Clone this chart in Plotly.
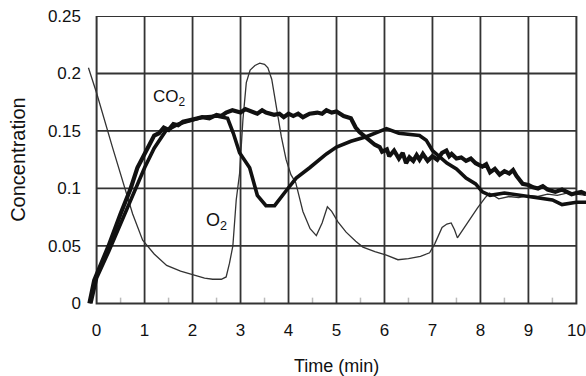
import plotly.graph_objects as go

# ---- data ----
X_TICKS = [0, 1, 2, 3, 4, 5, 6, 7, 8, 9, 10]
Y_TICKS = [0, 0.05, 0.1, 0.15, 0.2, 0.25]
Y_TICK_TEXT = ["0", "0.05", "0.1", "0.15", "0.2", "0.25"]
MINOR_X = [0.5, 1.5, 2.5, 3.5, 4.5, 5.5, 6.5, 7.5, 8.5, 9.5]

o2_t = [-0.17, 0, 0.33, 0.58, 0.75, 0.96, 1.2, 1.46, 1.75, 2.0, 2.25, 2.42, 2.6, 2.7,
        2.77, 2.84, 2.91, 2.98, 3.05, 3.12, 3.2, 3.3, 3.4, 3.5, 3.57, 3.65, 3.75, 3.85,
        3.95, 4.05, 4.15, 4.3, 4.45, 4.58, 4.7, 4.81, 4.9, 5.03, 5.2, 5.4, 5.55, 5.8,
        6.04, 6.28, 6.5, 6.75, 6.94, 7.05, 7.2, 7.3, 7.39, 7.46, 7.52, 7.6, 7.75, 7.94,
        8.1, 8.19, 8.38, 8.6, 8.8, 9.0, 9.2, 9.4, 9.6, 9.8, 10.0, 10.2]
o2_c = [0.205, 0.183, 0.136, 0.101, 0.078, 0.055, 0.043, 0.033, 0.028, 0.025, 0.022, 0.021,
        0.021, 0.023, 0.035, 0.05, 0.09, 0.113, 0.16, 0.192, 0.203, 0.207, 0.209, 0.208,
        0.205, 0.195, 0.168, 0.145, 0.125, 0.112, 0.105, 0.08, 0.065, 0.059, 0.07, 0.084,
        0.08, 0.071, 0.062, 0.054, 0.049, 0.045, 0.042, 0.038, 0.039, 0.041, 0.044, 0.052,
        0.066, 0.069, 0.07, 0.064, 0.057, 0.062, 0.072, 0.083, 0.092, 0.096, 0.091, 0.093,
        0.092, 0.094, 0.093, 0.095, 0.094, 0.096, 0.095, 0.094]

co2_t = [-0.15, -0.05, 0.0, 0.25, 0.5, 0.71, 0.85, 1.0, 1.2, 1.3, 1.4, 1.5, 1.6, 1.7, 1.8,
         2.0, 2.2, 2.35, 2.5, 2.6, 2.7, 2.83, 3.0, 3.1, 3.2, 3.35, 3.45, 3.53, 3.7, 3.81,
         3.9, 4.0, 4.1, 4.2, 4.3, 4.44, 4.6, 4.7, 4.79, 4.9, 5.0, 5.15, 5.3, 5.4, 5.48,
         5.6, 5.7, 5.8, 5.9, 5.95, 6.05, 6.1, 6.2, 6.3, 6.38, 6.45, 6.52, 6.6, 6.67, 6.73,
         6.8, 6.9, 7.0, 7.1, 7.2, 7.29, 7.35, 7.4, 7.5, 7.6, 7.7, 7.8, 7.9, 8.04, 8.12,
         8.2, 8.3, 8.4, 8.5, 8.6, 8.68, 8.75, 8.88, 9.0, 9.1, 9.2, 9.3, 9.4, 9.56, 9.7, 9.8,
         9.9, 10.0, 10.1, 10.2]
co2_c = [0.0, 0.02, 0.025, 0.05, 0.078, 0.1, 0.118, 0.13, 0.146, 0.148, 0.153, 0.151,
         0.156, 0.155, 0.158, 0.16, 0.162, 0.161, 0.164, 0.163, 0.166, 0.168, 0.166, 0.169,
         0.167, 0.165, 0.168, 0.166, 0.164, 0.165, 0.162, 0.165, 0.163, 0.165, 0.162, 0.165,
         0.166, 0.165, 0.168, 0.166, 0.167, 0.163, 0.161, 0.153, 0.149, 0.145, 0.142, 0.138,
         0.136, 0.132, 0.134, 0.128, 0.133, 0.126, 0.131, 0.122, 0.127, 0.124, 0.129, 0.125,
         0.13, 0.124, 0.128, 0.125, 0.131, 0.133, 0.128, 0.13, 0.126, 0.127, 0.124, 0.126,
         0.122, 0.119, 0.121, 0.114, 0.117, 0.112, 0.115, 0.113, 0.116, 0.111, 0.104, 0.103,
         0.101, 0.1, 0.102, 0.099, 0.097, 0.099, 0.097, 0.095, 0.096, 0.097, 0.095]

dip_t = [-0.12, 0.0, 0.25, 0.5, 0.81, 1.0, 1.2, 1.44, 1.7, 2.0, 2.2, 2.5, 2.73, 2.85,
         2.98, 3.19, 3.35, 3.53, 3.71, 3.95, 4.16, 4.44, 4.79, 5.0, 5.3, 5.62, 5.85, 6.04,
         6.3, 6.55, 6.73, 6.87, 7.0, 7.3, 7.5, 7.7, 7.9, 8.04, 8.2, 8.5, 8.8, 9.2, 9.5,
         9.7, 10.0, 10.2]
dip_c = [0.0, 0.022, 0.045, 0.07, 0.1, 0.118, 0.135, 0.15, 0.156, 0.16, 0.162, 0.163,
         0.161, 0.148, 0.131, 0.118, 0.094, 0.085, 0.085, 0.098, 0.109, 0.118, 0.13, 0.136,
         0.141, 0.145, 0.149, 0.152, 0.148, 0.147, 0.146, 0.142, 0.133, 0.122, 0.117,
         0.109, 0.104, 0.097, 0.094, 0.096, 0.094, 0.092, 0.09, 0.086, 0.088, 0.088]

FONT = "Liberation Sans, Arial, sans-serif"
GRID = "#333333"
INK = "#111111"

fig = go.Figure()
fig.add_trace(go.Scatter(x=o2_t, y=o2_c, mode="lines",
                         line=dict(color="#333333", width=1.3), showlegend=False))
fig.add_trace(go.Scatter(x=dip_t, y=dip_c, mode="lines",
                         line=dict(color=INK, width=3.6), showlegend=False))
fig.add_trace(go.Scatter(x=co2_t, y=co2_c, mode="lines",
                         line=dict(color=INK, width=4.2), showlegend=False))

shapes = []
for xv in X_TICKS[1:-1]:
    shapes.append(dict(type="line", xref="x", yref="y", x0=xv, x1=xv, y0=Y_TICKS[0],
                       y1=Y_TICKS[-1], line=dict(color=GRID, width=1.8), layer="below"))
for yv in Y_TICKS[1:-1]:
    shapes.append(dict(type="line", xref="x", yref="y", x0=X_TICKS[0], x1=X_TICKS[-1],
                       y0=yv, y1=yv, line=dict(color=GRID, width=1.8), layer="below"))
for xv in MINOR_X:
    shapes.append(dict(type="line", xref="x", yref="y", x0=xv, x1=xv, y0=0, y1=0.005,
                       line=dict(color="#bbbbbb", width=1.5), layer="below"))
shapes.append(dict(type="rect", xref="x", yref="y", x0=X_TICKS[0], x1=X_TICKS[-1],
                   y0=Y_TICKS[0], y1=Y_TICKS[-1], line=dict(color=GRID, width=2),
                   layer="below"))

annotations = [
    dict(text="CO<sub>2</sub>", x=1.52, y=0.179, xref="x", yref="y", showarrow=False,
         font=dict(family=FONT, size=17, color=INK)),
    dict(text="O<sub>2</sub>", x=2.5, y=0.071, xref="x", yref="y", showarrow=False,
         font=dict(family=FONT, size=18, color=INK)),
    dict(text="Time (min)", x=5, y=-0.197, xref="x", yref="paper", showarrow=False,
         font=dict(family=FONT, size=18, color=INK), yanchor="middle"),
    dict(text="Concentration", x=-0.138, y=0.125, xref="paper", yref="y", showarrow=False,
         textangle=-90, font=dict(family=FONT, size=20, color=INK), xanchor="center"),
]

fig.update_layout(
    width=586, height=376,
    margin=dict(l=87, r=0, t=16, b=68),
    paper_bgcolor="white", plot_bgcolor="white",
    shapes=shapes, annotations=annotations,
    xaxis=dict(range=[-0.2, 10.2], tickvals=X_TICKS, showgrid=False, zeroline=False,
               showline=False, ticks="", ticklabelstandoff=10,
               tickfont=dict(family=FONT, size=17, color=INK)),
    yaxis=dict(range=[-0.004, 0.25], tickvals=Y_TICKS, ticktext=Y_TICK_TEXT,
               showgrid=False, zeroline=False, showline=False, ticks="",
               ticklabelstandoff=5, tickfont=dict(family=FONT, size=17, color=INK)),
)

fig.write_html("out.html")
